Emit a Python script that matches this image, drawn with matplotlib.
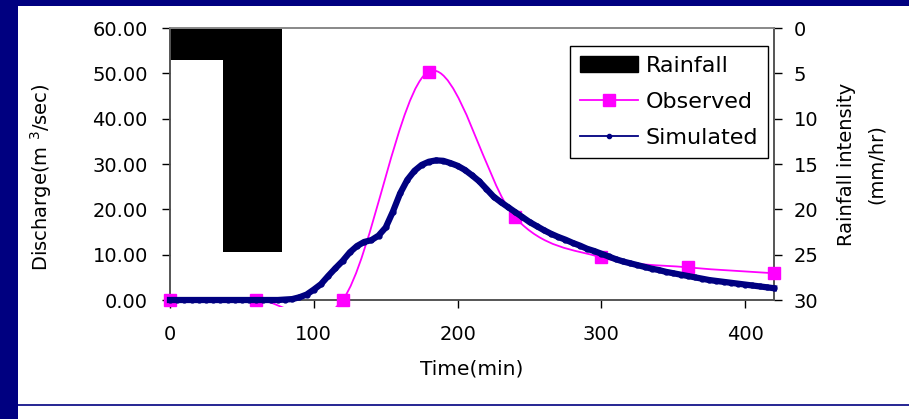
import matplotlib
matplotlib.use("Agg")
import matplotlib.pyplot as plt
from matplotlib.lines import Line2D
from matplotlib.patches import Patch, PathPatch, Rectangle
from matplotlib.path import Path

plt.rcParams['font.family'] = ['DejaVu Sans']

# --- data ---
rain_edges = [0, 37, 78]          # minutes
rain_intensity = [3.5, 24.7]      # mm/hr

obs_time = [0, 60, 120, 180, 240, 300, 360, 420]
obs_q = [0.0, 0.0, 0.0, 50.4, 18.2, 9.4, 7.2, 5.9]

sim_time = list(range(0, 425, 5))
sim_q = [0.0, 0.0, 0.0, 0.0, 0.0, 0.0, 0.0, 0.0, 0.0, 0.0, 0.0, 0.0, 0.0, 0.0, 0.0, 0.0,
         0.1, 0.2, 0.6, 1.2, 2.3, 3.5, 5.3, 7.0, 8.6, 10.5, 11.9, 12.8, 13.2, 14.2,
         16.0, 19.5, 23.5, 26.5, 28.5, 29.8, 30.5, 30.8, 30.7, 30.2, 29.6, 28.7,
         27.5, 26.2, 24.5, 22.8, 21.6, 20.5, 19.4, 18.3, 17.2, 16.3, 15.4, 14.6,
         13.9, 13.3, 12.6, 12.0, 11.3, 10.8, 10.2, 9.6, 9.0, 8.5, 8.1, 7.7, 7.3,
         6.9, 6.6, 6.2, 5.9, 5.6, 5.3, 5.0, 4.7, 4.4, 4.2, 4.0, 3.8, 3.6, 3.4,
         3.2, 3.0, 2.8, 2.6]

x_ticks = [0, 100, 200, 300, 400]
q_ticks = [0, 10, 20, 30, 40, 50, 60]
rain_ticks = [0, 5, 10, 15, 20, 25, 30]

NAVY = '#000080'
MAGENTA = '#ff00ff'


def excel_smooth_path(xs, ys):
    # Bezier path like Excel's "smoothed line" (Catmull-Rom control points)
    n = len(xs)
    verts = [(xs[0], ys[0])]
    codes = [Path.MOVETO]
    for i in range(n - 1):
        x0, y0 = (xs[i - 1], ys[i - 1]) if i > 0 else (xs[i], ys[i])
        x3, y3 = (xs[i + 2], ys[i + 2]) if i + 2 < n else (xs[i + 1], ys[i + 1])
        c1 = (xs[i] + (xs[i + 1] - x0) / 6, ys[i] + (ys[i + 1] - y0) / 6)
        c2 = (xs[i + 1] - (x3 - xs[i]) / 6, ys[i + 1] - (y3 - ys[i]) / 6)
        verts += [c1, c2, (xs[i + 1], ys[i + 1])]
        codes += [Path.CURVE4] * 3
    return Path(verts, codes)


fig = plt.figure(figsize=(9.09, 4.19), dpi=100)
fig.patch.set_facecolor('white')

# slide frame
fig.add_artist(Rectangle((0, 0), 18 / 909, 1, transform=fig.transFigure,
                         color=NAVY, lw=0))
fig.add_artist(Rectangle((0, 1 - 6 / 419), 1, 6 / 419, transform=fig.transFigure,
                         color=NAVY, lw=0))
fig.add_artist(Line2D([18 / 909, 1], [1 - 404.5 / 419] * 2, transform=fig.transFigure,
                      color=NAVY, lw=1.2))

ax = fig.add_axes([170 / 909, 119 / 419, 604 / 909, 272 / 419])
ax2 = ax.twinx()

# rainfall bars (inverted right axis)
widths = [rain_edges[i + 1] - rain_edges[i] for i in range(len(rain_intensity))]
ax2.bar(rain_edges[:-1], rain_intensity, width=widths, align='edge',
        color='black', edgecolor='black', linewidth=0, zorder=1)
ax2.set_ylim(30, 0)
ax2.set_yticks(rain_ticks)

# put discharge lines above the rainfall axis
ax.set_zorder(ax2.get_zorder() + 1)
ax.patch.set_visible(False)

patch = PathPatch(excel_smooth_path(obs_time, obs_q), facecolor='none',
                  edgecolor=MAGENTA, lw=1.3, zorder=3)
ax.add_patch(patch)
clip = Rectangle((-10, -1.6), 440, 70, transform=ax.transData)
patch.set_clip_path(clip)
ax.plot(obs_time, obs_q, ls='none', marker='s', ms=8.5, color=MAGENTA,
        clip_on=False, zorder=4)
ax.plot(sim_time, sim_q, color=NAVY, lw=4.5, marker='o', ms=3.5,
        clip_on=False, zorder=5)

ax.set_xlim(0, 420)
ax.set_ylim(0, 60)
ax.set_xticks(x_ticks)
ax.set_yticks(q_ticks)
ax.set_yticklabels([f'{v:.2f}' for v in q_ticks])

for a in (ax, ax2):
    a.tick_params(direction='out', length=6, width=1, colors='black',
                  labelsize=14)
    for s in a.spines.values():
        s.set_color('#555555')
        s.set_linewidth(1.2)
ax.tick_params(axis='y', pad=10)
ax.tick_params(axis='x', pad=12)
ax2.tick_params(axis='y', pad=8)
ax.spines['top'].set_color('#888888')
ax2.spines['top'].set_color('#888888')

ax.set_xlabel('Time(min)', fontsize=14.5, labelpad=11)
ax.set_ylabel('Discharge(m $^3$/sec)', fontsize=14)
ax.yaxis.set_label_coords(-0.192, 0.45)
ax2.set_ylabel('Rainfall intensity\n(mm/hr)', fontsize=14, labelpad=13.5,
               linespacing=1.75)

handles = [Patch(facecolor='black', edgecolor='black'),
           Line2D([], [], color=MAGENTA, lw=1.3, marker='s', ms=9),
           Line2D([], [], color=NAVY, lw=1.3, marker='o', ms=3)]
leg = ax.legend(handles, ['Rainfall', 'Observed', 'Simulated'],
                loc='upper right', bbox_to_anchor=(0.99, 0.934), fontsize=16,
                frameon=True, fancybox=False, framealpha=1, edgecolor='black',
                handlelength=2.6, handletextpad=0.35, borderpad=0.45,
                labelspacing=0.72, borderaxespad=0)
leg.get_frame().set_linewidth(1.0)

fig.savefig('out.png', dpi=100, facecolor='white')
